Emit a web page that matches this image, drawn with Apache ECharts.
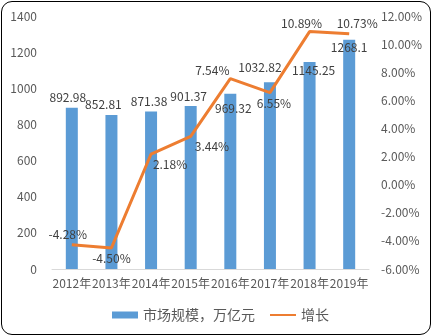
<!DOCTYPE html>
<html>
<head>
<meta charset="utf-8">
<script src="https://cdn.jsdelivr.net/npm/echarts@6/dist/echarts.min.js"></script>
<style>
  html, body { margin: 0; padding: 0; background: #fff; }
  #chart { position: absolute; left: 1px; top: 1px; width: 428px; height: 332px;
           border: 1px solid #000; border-radius: 11px; overflow: hidden; }
</style>
</head>
<body>
<div id="chart"></div>
<script>
// Market size (万亿元) and year-on-year growth (%)
const years = ['2012年', '2013年', '2014年', '2015年', '2016年', '2017年', '2018年', '2019年'];
const marketSize = [892.98, 852.81, 871.38, 901.37, 969.32, 1032.82, 1145.25, 1268.1];
const growth = [-4.28, -4.50, 2.18, 3.44, 7.54, 6.55, 10.89, 10.73];

// Label placement for each point (position, [dx, dy])
const barLabelPlace = [
  ['top', [-4, -1]], ['top', [-8, -1]], ['top', [-2, -1]], ['top', [-2, -1]],
  ['top', [3, 24]], ['top', [-10, -6]], ['top', [4, 17]], ['top', [0, 17]]
];
const lineLabelPlace = [
  ['top', [-4, 0]], ['bottom', [0, 0]], ['bottom', [19, 0]], ['right', [0, 10]],
  ['top', [-18, 2]], ['bottom', [4, 1]], ['top', [-8, 2]], ['top', [8, 0]]
];

const font = '"Noto Sans CJK SC", "Noto Sans", sans-serif';
const chart = echarts.init(document.getElementById('chart'));

chart.setOption({
  animation: false,
  textStyle: { fontFamily: font },
  grid: { left: 50, right: 61, top: 14, bottom: 65 },
  legend: {
    bottom: 12,
    left: 110,
    padding: 0,
    itemGap: 15,
    itemWidth: 26,
    itemHeight: 7,
    textStyle: { color: '#595959', fontSize: 14, fontFamily: font },
    data: [
      { name: '市场规模，万亿元', icon: 'rect' },
      { name: '增长', icon: 'path://M0,3 L26,3 L26,5 L0,5 Z', itemStyle: { color: '#ED7D31' } }
    ]
  },
  xAxis: {
    type: 'category',
    data: years,
    axisLine: { lineStyle: { color: '#D9D9D9', width: 1 } },
    axisTick: { show: false },
    axisLabel: { interval: 0, color: '#595959', fontSize: 12, margin: 8, fontFamily: font }
  },
  yAxis: [
    {
      type: 'value', min: 0, max: 1400, interval: 200,
      splitLine: { show: false },
      axisLabel: { color: '#595959', fontSize: 12, margin: 15, fontFamily: font,
                   formatter: v => String(v) }
    },
    {
      type: 'value', min: -6, max: 12, interval: 2,
      splitLine: { show: false },
      axisLabel: {
        color: '#595959', fontSize: 12, margin: 12, fontFamily: font,
        formatter: v => v.toFixed(2) + '%'
      }
    }
  ],
  series: [
    {
      name: '市场规模，万亿元',
      type: 'bar',
      barWidth: 12,
      itemStyle: { color: '#5B9BD5' },
      data: marketSize.map((v, i) => ({
        value: v,
        label: { position: barLabelPlace[i][0], offset: barLabelPlace[i][1] }
      })),
      label: { show: true, color: '#404040', fontSize: 12, fontFamily: font, distance: 3 }
    },
    {
      name: '增长',
      type: 'line',
      yAxisIndex: 1,
      symbol: 'circle',
      symbolSize: 0.1,
      showSymbol: true,
      lineStyle: { color: '#ED7D31', width: 3 },
      itemStyle: { color: '#ED7D31' },
      data: growth.map((v, i) => ({
        value: v,
        label: { show: true, position: lineLabelPlace[i][0], offset: lineLabelPlace[i][1] }
      })),
      label: {
        show: true, color: '#404040', fontSize: 12, fontFamily: font, distance: 4,
        formatter: p => p.value.toFixed(2) + '%'
      }
    }
  ]
});
</script>
</body>
</html>
